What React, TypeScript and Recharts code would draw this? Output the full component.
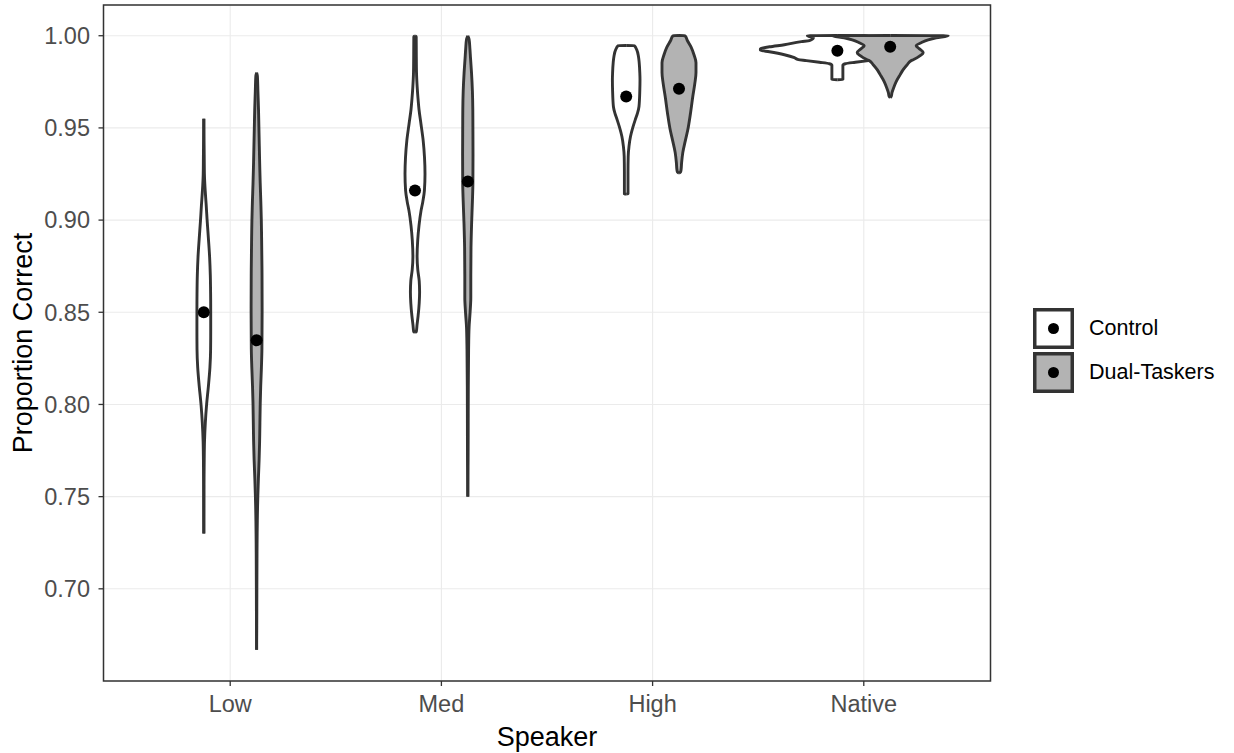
import React from 'react';
import {
  ComposedChart,
  Area,
  Scatter,
  XAxis,
  YAxis,
  CartesianGrid,
  ReferenceArea,
  Legend,
} from 'recharts';

const categories = ['Low', 'Med', 'High', 'Native'];
const groups = ['Control', 'Dual-Taskers'];
const groupFills = ['#ffffff', '#b3b3b3'];
const yTicks = [0.7, 0.75, 0.8, 0.85, 0.9, 0.95, 1.0];
const xTicks = [1, 2, 3, 4];

const meansControl = [0.85, 0.916, 0.967, 0.9919];
const meansDual = [0.8348, 0.9209, 0.9713, 0.994];

// violin outlines: [proportion correct, density half-width]
const lowControl = [
  [0.955, 0], [0.945, 0.2], [0.935, 0.4], [0.925, 0.6], [0.915, 1.5], [0.908, 2.4],
  [0.9, 3.3], [0.89, 4.6], [0.88, 5.8], [0.87, 6.5], [0.86, 6.8], [0.85, 6.9],
  [0.84, 6.9], [0.83, 6.8], [0.82, 6.1], [0.81, 4.6], [0.8, 2.8], [0.79, 1.5],
  [0.78, 0.7], [0.77, 0.4], [0.76, 0.25], [0.745, 0.15], [0.73, 0],
];
const lowDual = [
  [0.98, 0], [0.978, 0.8], [0.97, 1.3], [0.96, 1.9], [0.95, 2.3], [0.94, 2.7],
  [0.93, 3.1], [0.92, 3.6], [0.91, 4.2], [0.9, 4.7], [0.89, 5], [0.87, 5.4],
  [0.85, 5.5], [0.83, 5.3], [0.82, 4.8], [0.81, 4.1], [0.8, 3.6], [0.79, 3.3],
  [0.78, 3], [0.77, 2.5], [0.76, 1.8], [0.75, 1.2], [0.74, 0.8], [0.73, 0.55],
  [0.72, 0.4], [0.7, 0.25], [0.68, 0.15], [0.667, 0],
];
const medControl = [
  [1.0, 0], [0.9995, 1.2], [0.99, 1.3], [0.98, 1.5], [0.972, 2.2], [0.966, 3],
  [0.96, 4], [0.952, 6], [0.943, 8.2], [0.934, 9.5], [0.925, 10], [0.916, 9.4],
  [0.91, 7.8], [0.905, 6], [0.897, 4], [0.889, 2.7], [0.88, 2.1], [0.873, 2.8],
  [0.867, 4.2], [0.861, 4.6], [0.855, 4.2], [0.848, 3.1], [0.843, 2],
  [0.8395, 1.3], [0.839, 0],
];
const medDual = [
  [1.0, 0], [0.998, 1.3], [0.993, 2.1], [0.988, 2.7], [0.98, 3.7], [0.97, 4.6],
  [0.96, 5], [0.95, 5.1], [0.935, 5.2], [0.92, 5.1], [0.91, 4.6], [0.898, 3.8],
  [0.885, 3.2], [0.87, 3], [0.858, 3], [0.85, 2.3], [0.842, 1.3], [0.83, 0.8],
  [0.81, 0.5], [0.79, 0.4], [0.77, 0.3], [0.75, 0],
];
const highControl = [
  [0.9947, 0], [0.9946, 8], [0.9924, 10.5], [0.9886, 12.3], [0.9854, 13],
  [0.98, 13.6], [0.9762, 13.8], [0.97, 13.6], [0.9616, 12.8], [0.958, 11.3],
  [0.9545, 9.1], [0.95, 6.5], [0.9453, 4.3], [0.94, 2.8], [0.9345, 2],
  [0.926, 1.8], [0.9142, 1.8], [0.9141, 0],
];
const highDual = [
  [1.0001, 0], [1.0, 6], [0.9973, 8.5], [0.994, 12], [0.9897, 15], [0.9854, 17],
  [0.98, 17], [0.974, 15.8], [0.967, 13.8], [0.958, 11.5], [0.949, 8.8],
  [0.943, 6.3], [0.9366, 3.8], [0.931, 2.6], [0.9274, 2.1], [0.926, 1.5],
  [0.9255, 0],
];
const nativeControl = [
  [1.0001, 0], [1.0, 30], [0.9989, 24], [0.9973, 28], [0.9968, 36], [0.9951, 53],
  [0.994, 68], [0.993, 77], [0.9921, 77], [0.9913, 68], [0.9897, 53],
  [0.9881, 43], [0.987, 39], [0.9865, 31], [0.9856, 18], [0.9848, 8],
  [0.984, 5.5], [0.9762, 5.5], [0.9761, 0],
];
const nativeDual = [
  [1.0001, 0], [1.0, 58], [0.9989, 46], [0.9978, 38], [0.9962, 31], [0.9946, 26],
  [0.993, 29], [0.9908, 33], [0.9892, 30], [0.987, 23], [0.9865, 21],
  [0.9843, 17], [0.9816, 13], [0.9789, 10], [0.9751, 6], [0.9718, 3.5],
  [0.9691, 1.8], [0.967, 1], [0.9664, 0],
];

const controlShapes = [lowControl, medControl, highControl, nativeControl];
const dualShapes = [lowDual, medDual, highDual, nativeDual];

const DODGE = 0.125;
const WIDTH_UNIT = 1 / 211.2;
const FONT = '"Liberation Sans", Arial, sans-serif';
const STROKE = '#333333';

const toRows = (shape: number[][], center: number) =>
  shape.map(([v, w]) => ({ y: v, range: [center - w * WIDTH_UNIT, center + w * WIDTH_UNIT] }));

const violins: { key: string; group: number; rows: any[] }[] = [];
categories.forEach((c, i) => {
  violins.push({ key: c + '-c', group: 0, rows: toRows(controlShapes[i], i + 1 - DODGE) });
  violins.push({ key: c + '-d', group: 1, rows: toRows(dualShapes[i], i + 1 + DODGE) });
});

const meanPoints = [
  ...categories.map((c, i) => ({ x: i + 1 - DODGE, y: meansControl[i] })),
  ...categories.map((c, i) => ({ x: i + 1 + DODGE, y: meansDual[i] })),
];

const Dot = (p: any) => <circle cx={p.cx} cy={p.cy} r={6} fill="#000" />;

const LegendBox = () => (
  <div style={{ fontFamily: FONT, fontSize: 21.5, color: '#000' }}>
    {groups.map((g, i) => (
      <div key={g} style={{ display: 'flex', alignItems: 'center', height: 41, marginBottom: 3.5 }}>
        <svg width={41} height={41} style={{ display: 'block' }}>
          <rect x={1.75} y={1.75} width={37.5} height={37.5} fill={groupFills[i]} stroke={STROKE} strokeWidth={3.5} />
          <circle cx={20.5} cy={20.5} r={5.5} fill="#000" />
        </svg>
        <span style={{ marginLeft: 15.5 }}>{g}</span>
      </div>
    ))}
  </div>
);

export default function App() {
  return (
    <div style={{ position: 'absolute', left: 0, top: 0, background: '#fff' }}>
      <ComposedChart
        width={1234}
        height={753}
        layout="vertical"
        margin={{ top: 5, right: 243.5, bottom: 0, left: 0 }}
      >
        <CartesianGrid stroke="#ebebeb" strokeWidth={1.1} />
        <XAxis
          type="number"
          dataKey="x"
          domain={[0.4, 4.6]}
          allowDataOverflow
          ticks={xTicks}
          interval={0}
          tickFormatter={(i: number) => categories[i - 1]}
          height={72}
          axisLine={false}
          tickLine={{ stroke: STROKE, strokeWidth: 1.3 }}
          tickSize={5}
          tickMargin={9}
          tick={{ fill: '#4d4d4d', fontSize: 23.5, fontFamily: FONT }}
          label={{
            content: (props: any) => {
              const vb = props.viewBox;
              return (
                <text x={vb.x + vb.width / 2} y={vb.y + 65} textAnchor="middle" fontSize={27} fontFamily={FONT} fill="#000">
                  Speaker
                </text>
              );
            },
          }}
        />
        <YAxis
          type="number"
          dataKey="y"
          reversed
          domain={[0.65, 1.016667]}
          allowDataOverflow
          ticks={yTicks}
          interval={0}
          tickFormatter={(v: number) => v.toFixed(2)}
          width={103.5}
          axisLine={false}
          tickLine={{ stroke: STROKE, strokeWidth: 1.3 }}
          tickSize={5}
          tickMargin={8.5}
          tick={{ fill: '#4d4d4d', fontSize: 23.5, fontFamily: FONT }}
          label={{
            content: (props: any) => {
              const vb = props.viewBox;
              const cx = vb.x + 32;
              const cy = vb.y + vb.height / 2;
              return (
                <text x={cx} y={cy} transform={`rotate(-90, ${cx}, ${cy})`} textAnchor="middle" fontSize={27} fontFamily={FONT} fill="#000">
                  Proportion Correct
                </text>
              );
            },
          }}
        />
        {violins.map((v) => (
          <Area
            key={v.key}
            data={v.rows}
            dataKey="range"
            type="monotone"
            stroke={STROKE}
            strokeWidth={2.9}
            strokeLinejoin="round"
            fill={groupFills[v.group]}
            fillOpacity={1}
            dot={false}
            activeDot={false}
            isAnimationActive={false}
          />
        ))}
        <Scatter data={meanPoints} shape={Dot} isAnimationActive={false} />
        <ReferenceArea
          x1={0.4}
          x2={4.6}
          y1={0.65}
          y2={1.016667}
          fill="none"
          stroke={STROKE}
          strokeWidth={1.5}
          ifOverflow="visible"
        />
        <Legend
          align="center"
          verticalAlign="middle"
          layout="vertical"
          wrapperStyle={{ left: 1032.5, top: 307.5, width: 200 }}
          content={() => <LegendBox />}
        />
      </ComposedChart>
    </div>
  );
}
